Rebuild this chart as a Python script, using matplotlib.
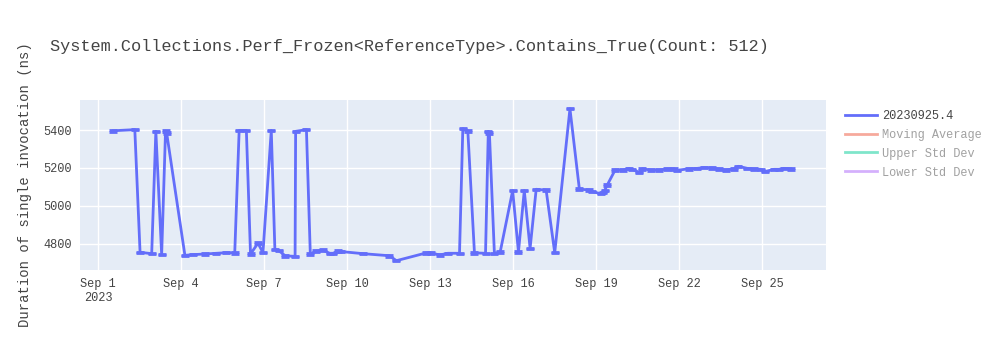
import matplotlib.pyplot as plt
from matplotlib.lines import Line2D
import pandas as pd

# day of September 2023 (fractional) and duration in ns
days = [1.55, 2.33, 2.52, 2.94, 3.09, 3.30, 3.44, 3.48, 4.14, 4.43, 4.86, 5.28, 5.64, 5.94,
        6.10, 6.36, 6.51, 6.78, 6.96, 7.26, 7.39, 7.53, 7.77, 8.12, 8.14, 8.53, 8.67, 8.89,
        9.13, 9.37, 9.49, 9.67, 9.79, 10.57, 11.53, 11.78, 12.86, 13.04, 13.34, 13.64, 14.06,
        14.18, 14.36, 14.60, 15.00, 15.10, 15.14, 15.32, 15.53, 15.98, 16.19, 16.40, 16.61,
        16.83, 17.19, 17.50, 18.05, 18.39, 18.75, 18.86, 19.16, 19.24, 19.30, 19.40, 19.68,
        19.95, 20.19, 20.30, 20.55, 20.67, 20.97, 21.27, 21.57, 21.81, 21.93, 22.35, 22.65,
        22.89, 23.19, 23.43, 23.67, 23.98, 24.13, 24.46, 24.70, 24.94, 25.10, 25.42, 25.60,
        25.78, 26.03]
durations = [5396, 5402, 4756, 4749, 5393, 4744, 5394, 5385, 4740, 4744, 4747, 4751, 4754, 4753,
             5398, 5398, 4747, 4804, 4754, 5398, 4772, 4765, 4737, 4735, 5393, 5402, 4747, 4762,
             4767, 4751, 4751, 4762, 4760, 4749, 4738, 4712, 4753, 4753, 4742, 4751, 4751,
             5407, 5396, 4753, 4751, 5393, 5385, 4751, 4758, 5081, 4758, 5081, 4777,
             5088, 5083, 4754, 5512, 5089, 5084, 5075, 5065, 5070, 5081, 5111, 5189,
             5189, 5198, 5193, 5177, 5196, 5189, 5189, 5195, 5196, 5188, 5196, 5198,
             5202, 5200, 5195, 5189, 5196, 5209, 5198, 5195, 5193, 5181, 5193, 5193,
             5198, 5196]
errors = [4] * len(durations)

dates = pd.Timestamp('2023-09-01') + pd.to_timedelta([d - 1 for d in days], unit='D')

title = "System.Collections.Perf_Frozen<ReferenceType>.Contains_True(Count: 512)"
legend_labels = ["20230925.4", "Moving Average", "Upper Std Dev", "Lower Std Dev"]
legend_colors = ["#636efa", "#ef553b", "#00cc96", "#ab63fa"]

mono = "Liberation Mono"
text_color = "#444444"

fig = plt.figure(figsize=(10, 3.5), dpi=100)
ax = fig.add_axes([0.08, 0.2286, 0.746, 0.4857])
ax.set_facecolor("#e5ecf6")
for s in ax.spines.values():
    s.set_visible(False)

ax.errorbar(dates, durations, yerr=errors, color="#636efa", linewidth=2,
            elinewidth=1.5, capsize=3, capthick=2, zorder=3)

x0 = pd.Timestamp('2023-09-01')
ax.set_xlim(x0 - pd.Timedelta(days=0.65), x0 + pd.Timedelta(days=26.3))
ax.set_ylim(4663, 5558)

ticks = [x0 + pd.Timedelta(days=3 * i) for i in range(9)]
ax.set_xticks(ticks)
ax.set_xticklabels(["Sep %d\n2023" % t.day if i == 0 else "Sep %d" % t.day
                    for i, t in enumerate(ticks)])
ax.set_yticks([4800, 5000, 5200, 5400])
ax.grid(True, color="white", linewidth=1)
ax.set_axisbelow(True)
ax.tick_params(length=0, labelsize=8.6, labelcolor=text_color, pad=6)
for lab in ax.get_xticklabels() + ax.get_yticklabels():
    lab.set_family(mono)

ax.set_ylabel("Duration of single invocation (ns)", family=mono, fontsize=10,
              color=text_color, labelpad=8)
fig.text(0.05, 0.868, title, family=mono, fontsize=12.2, color=text_color, va="center")

handles = []
for i, c in enumerate(legend_colors):
    handles.append(Line2D([], [], color=c, linewidth=2, alpha=1 if i == 0 else 0.5))
leg = fig.legend(handles, legend_labels, loc="upper left", bbox_to_anchor=(0.84, 0.70),
                 frameon=False, prop={"family": mono, "size": 8.6}, handlelength=2.7,
                 labelspacing=0.58, handletextpad=0.4, borderaxespad=0)
for i, t in enumerate(leg.get_texts()):
    t.set_color(text_color)
    if i > 0:
        t.set_alpha(0.5)

fig.savefig("out.png")
